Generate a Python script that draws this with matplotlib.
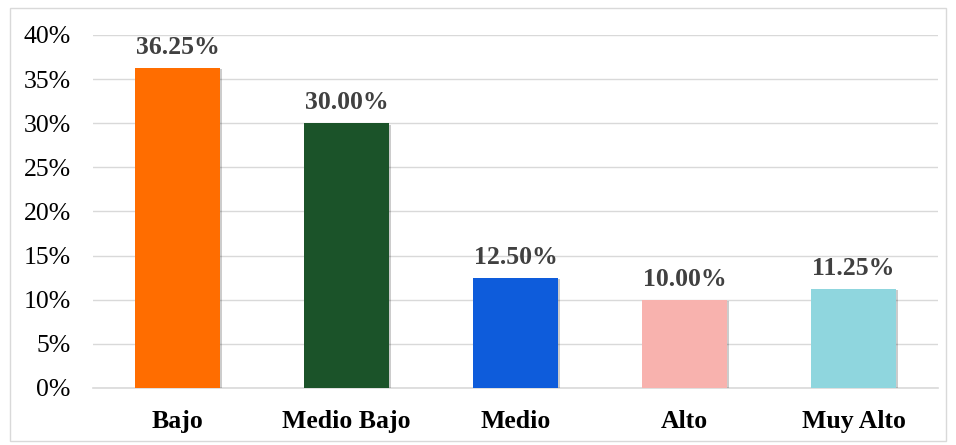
import matplotlib
matplotlib.use("Agg")
import matplotlib.pyplot as plt
import matplotlib.patheffects as pe
from matplotlib.patches import Rectangle

categories = ["Bajo", "Medio Bajo", "Medio", "Alto", "Muy Alto"]
values = [36.25, 30.00, 12.50, 10.00, 11.25]
colors = ["#FF6D00", "#1B5329", "#0E5CDB", "#F8B2AE", "#8FD6DE"]
yticks = [0, 5, 10, 15, 20, 25, 30, 35, 40]

plt.rcParams['font.family'] = ['Liberation Serif', 'DejaVu Serif']

W, H = 956, 445
fig = plt.figure(figsize=(W/100, H/100), dpi=100)
ax = fig.add_axes([93/W, 1-388/H, (938-93)/W, (388-35)/H])

bars = ax.bar(range(len(categories)), values, width=0.5, color=colors, zorder=3)
for b in bars:
    b.set_path_effects([pe.SimplePatchShadow(offset=(1.5, -1.0), shadow_rgbFace='#000000', alpha=0.2), pe.Normal()])

for i, v in enumerate(values):
    ax.text(i, v + 1.0, f"{v:.2f}%", ha='center', va='bottom', fontsize=18.5,
            fontweight='bold', color='#404040', zorder=4)

ax.set_xlim(-0.5, len(categories) - 0.5)
ax.set_ylim(0, 40)
ax.set_yticks(yticks)
ax.set_yticklabels([f"{t}%" for t in yticks], fontsize=18.5, color='#000000')
ax.set_xticks(range(len(categories)))
ax.set_xticklabels(categories, fontsize=18.5, fontweight='bold', color='#000000')
ax.tick_params(axis='both', length=0)
ax.tick_params(axis='x', pad=16)
ax.tick_params(axis='y', pad=16)
ax.yaxis.grid(True, color='#D9D9D9', linewidth=1, zorder=0)
for s in ['top', 'right', 'left']:
    ax.spines[s].set_visible(False)
ax.spines['bottom'].set_color('#D9D9D9')
ax.spines['bottom'].set_linewidth(1.2)
ax.set_axisbelow(True)

fig.patches.append(Rectangle((10/W, 1-441/H), (946-10)/W, (441-8)/H, transform=fig.transFigure,
                             fill=False, edgecolor='#D9D9D9', linewidth=1))

fig.savefig("out.png", dpi=100)
